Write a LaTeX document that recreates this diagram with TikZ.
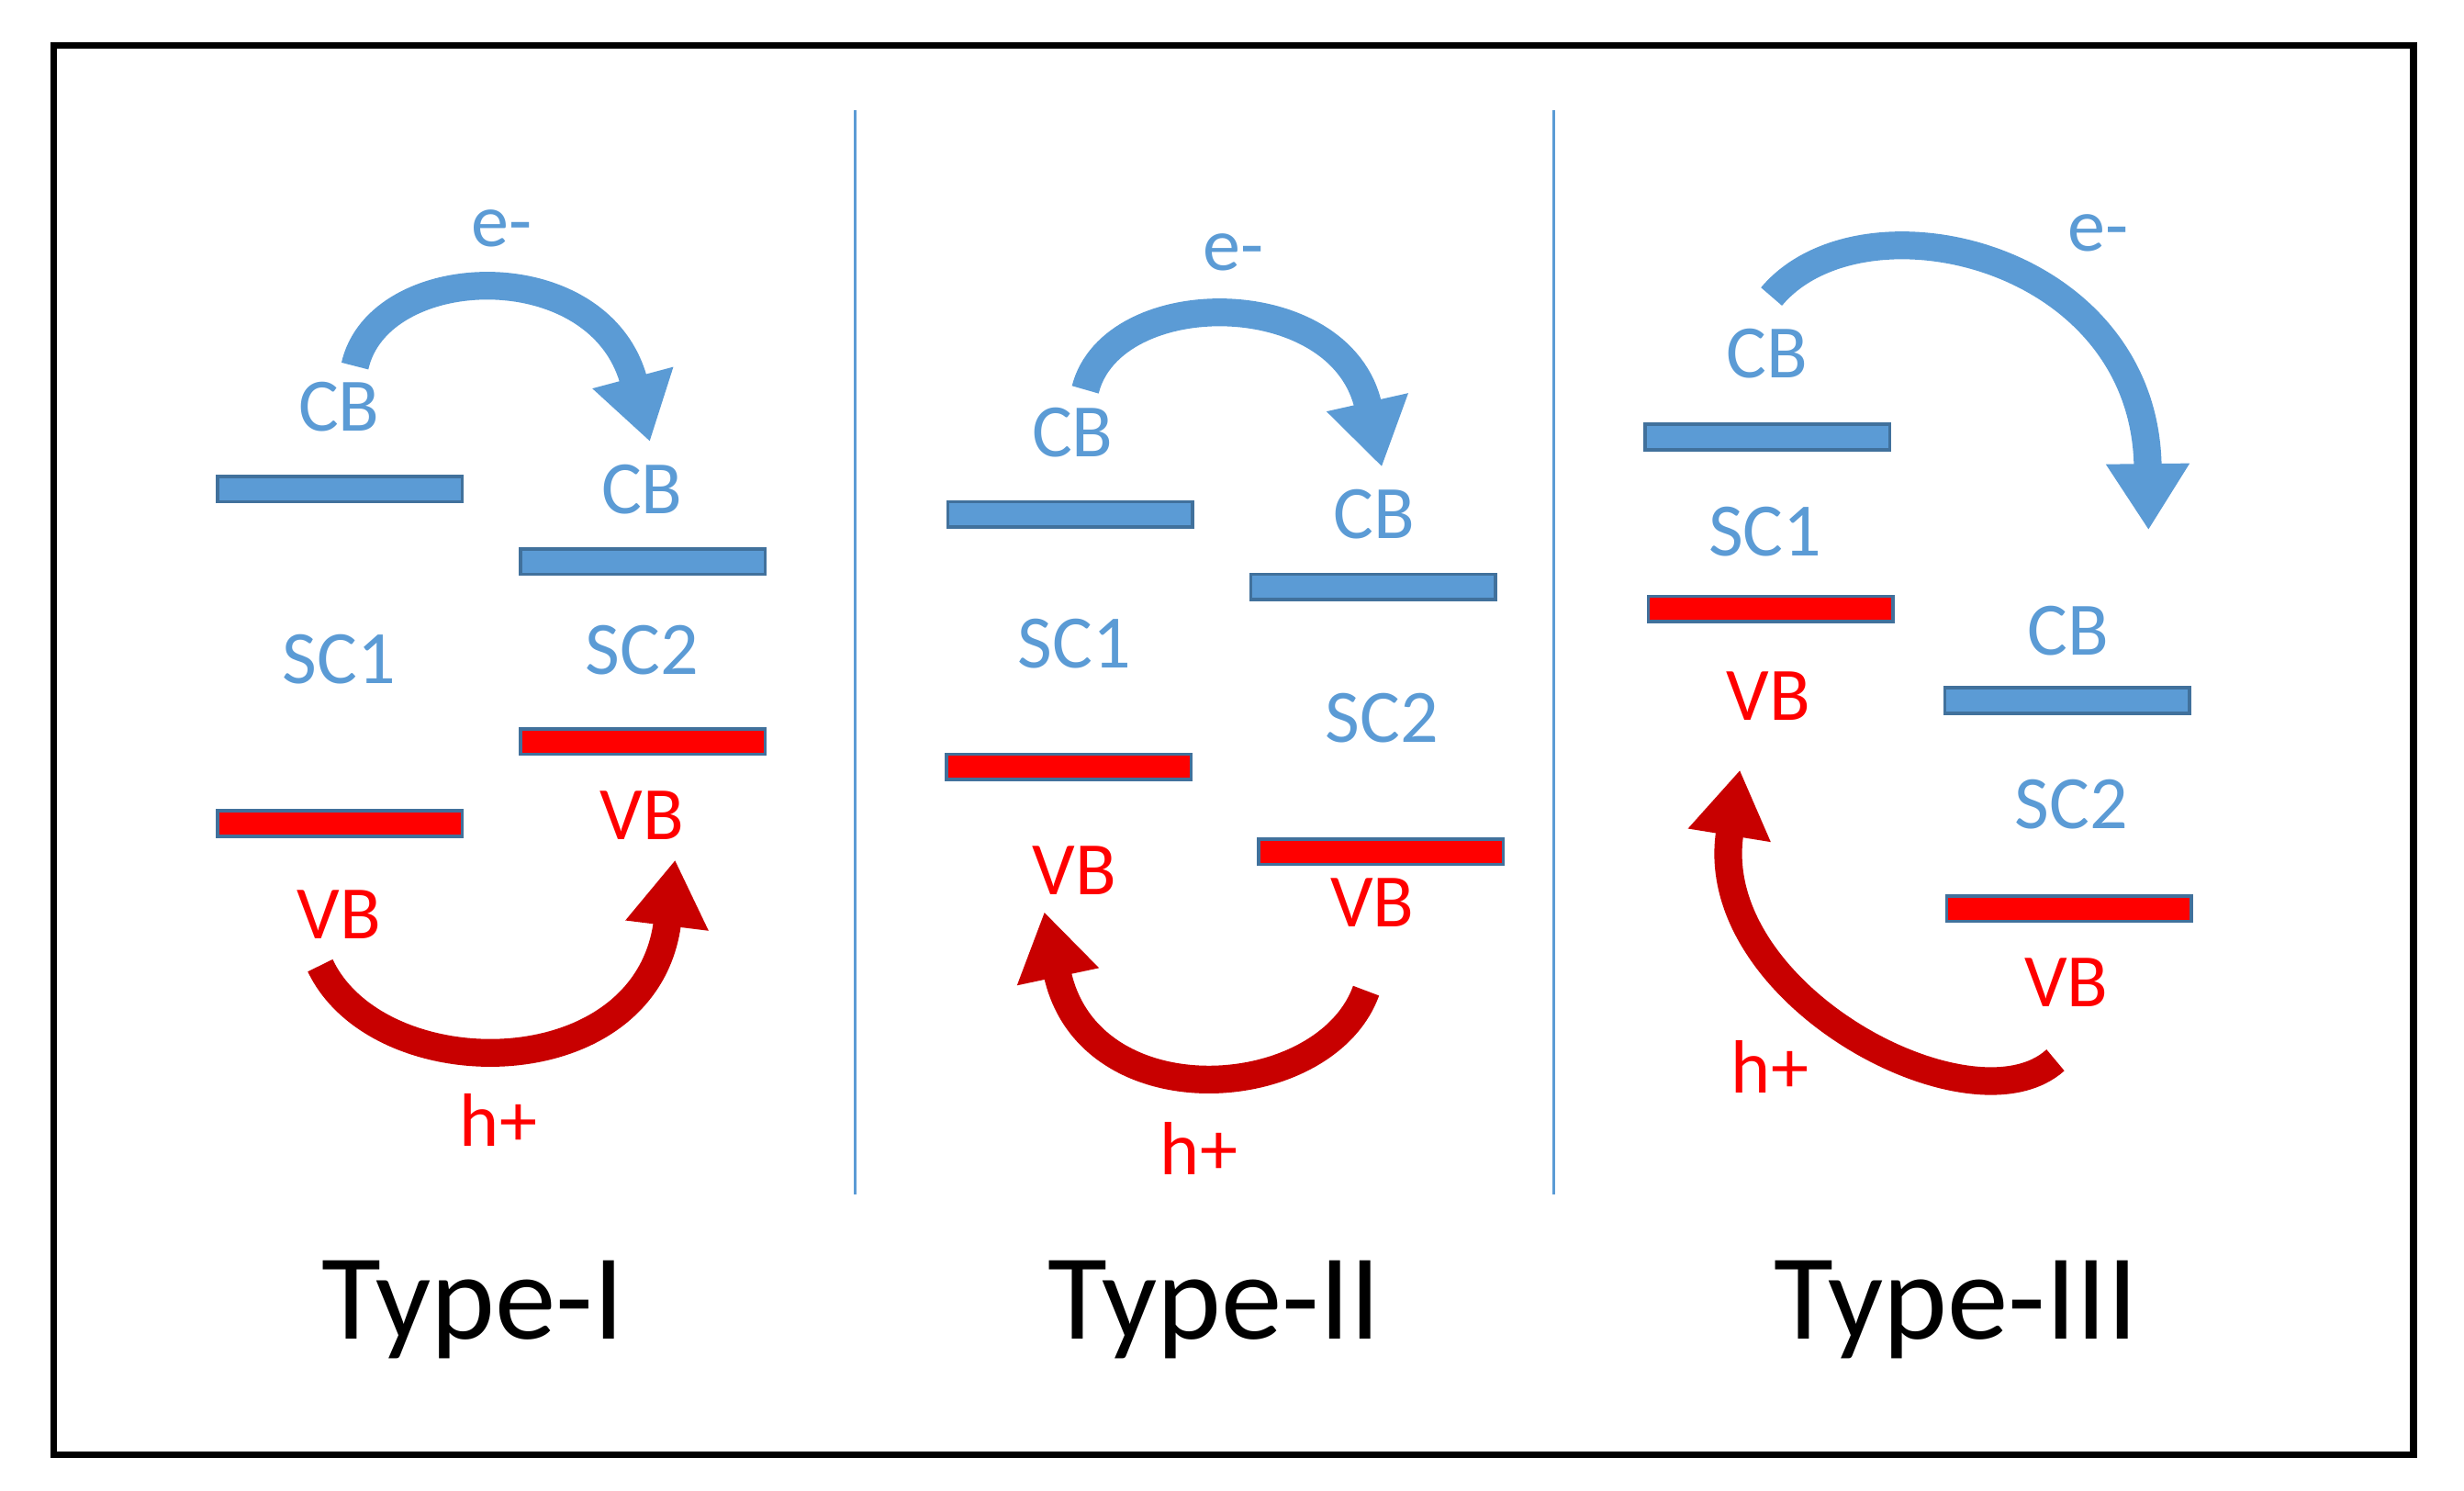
\documentclass[tikz,border=0pt]{standalone}
\usepackage{fontspec}
\setmainfont{Carlito}
\usetikzlibrary{arrows.meta}
\definecolor{cbb}{RGB}{91,155,213}
\definecolor{cbd}{RGB}{65,113,156}
\definecolor{vbr}{RGB}{255,0,0}
\definecolor{arr}{RGB}{200,0,0}
\begin{document}
\begin{tikzpicture}[x=0.01cm,y=-0.01cm,
 cb/.style={draw=cbd,fill=cbb,line width=0.6pt,minimum width=1.55cm,minimum height=0.16cm,inner sep=0pt},
 vb/.style={draw=cbd,fill=vbr,line width=0.6pt,minimum width=1.55cm,minimum height=0.16cm,inner sep=0pt},
 bl/.style={text=cbb,font=\fontsize{13.6}{15}\selectfont},
 rl/.style={text=vbr,font=\fontsize{13.6}{15}\selectfont},
 tl/.style={font=\fontsize{22}{26}\selectfont},
 ea/.style={draw=cbb,line width=5pt,-{Triangle[width=0.5cm,length=0.42cm]}},
 ha/.style={draw=arr,line width=5pt,-{Triangle[width=0.5cm,length=0.42cm]}}]
\useasboundingbox (0,0) rectangle (1562,945);
\node[draw=black,line width=1.2pt,minimum width=14.95cm,minimum height=8.93cm,inner sep=0pt] (frame) at (782,475.5) {};
\coordinate (l1t) at (542,70); \coordinate (l1b) at (542,757);
\coordinate (l2t) at (985,70); \coordinate (l2b) at (985,757);
\draw[cbb,line width=0.5pt] (l1t) -- (l1b);
\draw[cbb,line width=0.5pt] (l2t) -- (l2b);
% Type I
\node[cb] (a1) at (215.5,310) {};
\node[cb] (a2) at (407.5,356) {};
\node[vb] (a3) at (407.5,470) {};
\node[vb] (a4) at (215.5,522) {};
\node[bl] (t1) at (215,258) {CB};
\node[bl] (t2) at (407,310) {CB};
\node[bl] (t3) at (215,418) {SC1};
\node[bl] (t4) at (407,412) {SC2};
\node[rl] (t5) at (407,517) {VB};
\node[rl] (t6) at (215,580) {VB};
\node[bl] (t7) at (318,145) {e-};
\node[rl] (t8) at (316,710) {h+};
\coordinate (e1s) at (225,232); \coordinate (e1e) at (412,280);
\draw[ea] (e1s) .. controls (240,165) and (380,160) .. (e1e);
\coordinate (h1s) at (203,612); \coordinate (h1e) at (428,545);
\draw[ha] (h1s) .. controls (240,690) and (410,690) .. (h1e);
\node[tl] (T1) at (300,830) {Type-I};
% Type II
\node[cb] (b1) at (678.5,326) {};
\node[cb] (b2) at (870.5,372) {};
\node[vb] (b3) at (677.5,486) {};
\node[vb] (b4) at (875.5,540) {};
\node[bl] (u1) at (680,274) {CB};
\node[bl] (u2) at (871,326) {CB};
\node[bl] (u3) at (681,408) {SC1};
\node[bl] (u4) at (876,455) {SC2};
\node[rl] (u5) at (681,552) {VB};
\node[rl] (u6) at (870,572) {VB};
\node[bl] (u7) at (782,160) {e-};
\node[rl] (u8) at (760,728) {h+};
\coordinate (e2s) at (688,247); \coordinate (e2e) at (876,296);
\draw[ea] (e2s) .. controls (705,180) and (850,180) .. (e2e);
\coordinate (h2s) at (866,628); \coordinate (h2e) at (662,578);
\draw[ha] (h2s) .. controls (840,700) and (690,710) .. (h2e);
\node[tl] (T2) at (770,830) {Type-II};
% Type III
\node[cb] (c1) at (1120.5,277) {};
\node[vb] (c2) at (1122.5,386) {};
\node[cb] (c3) at (1310.5,444) {};
\node[vb] (c4) at (1311.5,576) {};
\node[bl] (v1) at (1120,224) {CB};
\node[bl] (v2) at (1119,337) {SC1};
\node[rl] (v3) at (1121,441) {VB};
\node[bl] (v4) at (1311,400) {CB};
\node[bl] (v5) at (1313,510) {SC2};
\node[rl] (v6) at (1310,623) {VB};
\node[bl] (v7) at (1330,148) {e-};
\node[rl] (v8) at (1122,676) {h+};
\coordinate (e3s) at (1123,188); \coordinate (e3e) at (1362,336);
\draw[ea] (e3s) .. controls (1180,120) and (1360,160) .. (e3e);
\coordinate (h3s) at (1303,672); \coordinate (h3e) at (1103,488);
\draw[ha] (h3s) .. controls (1250,720) and (1080,630) .. (h3e);
\node[tl] (T3) at (1240,830) {Type-III};
\end{tikzpicture}
\end{document}
